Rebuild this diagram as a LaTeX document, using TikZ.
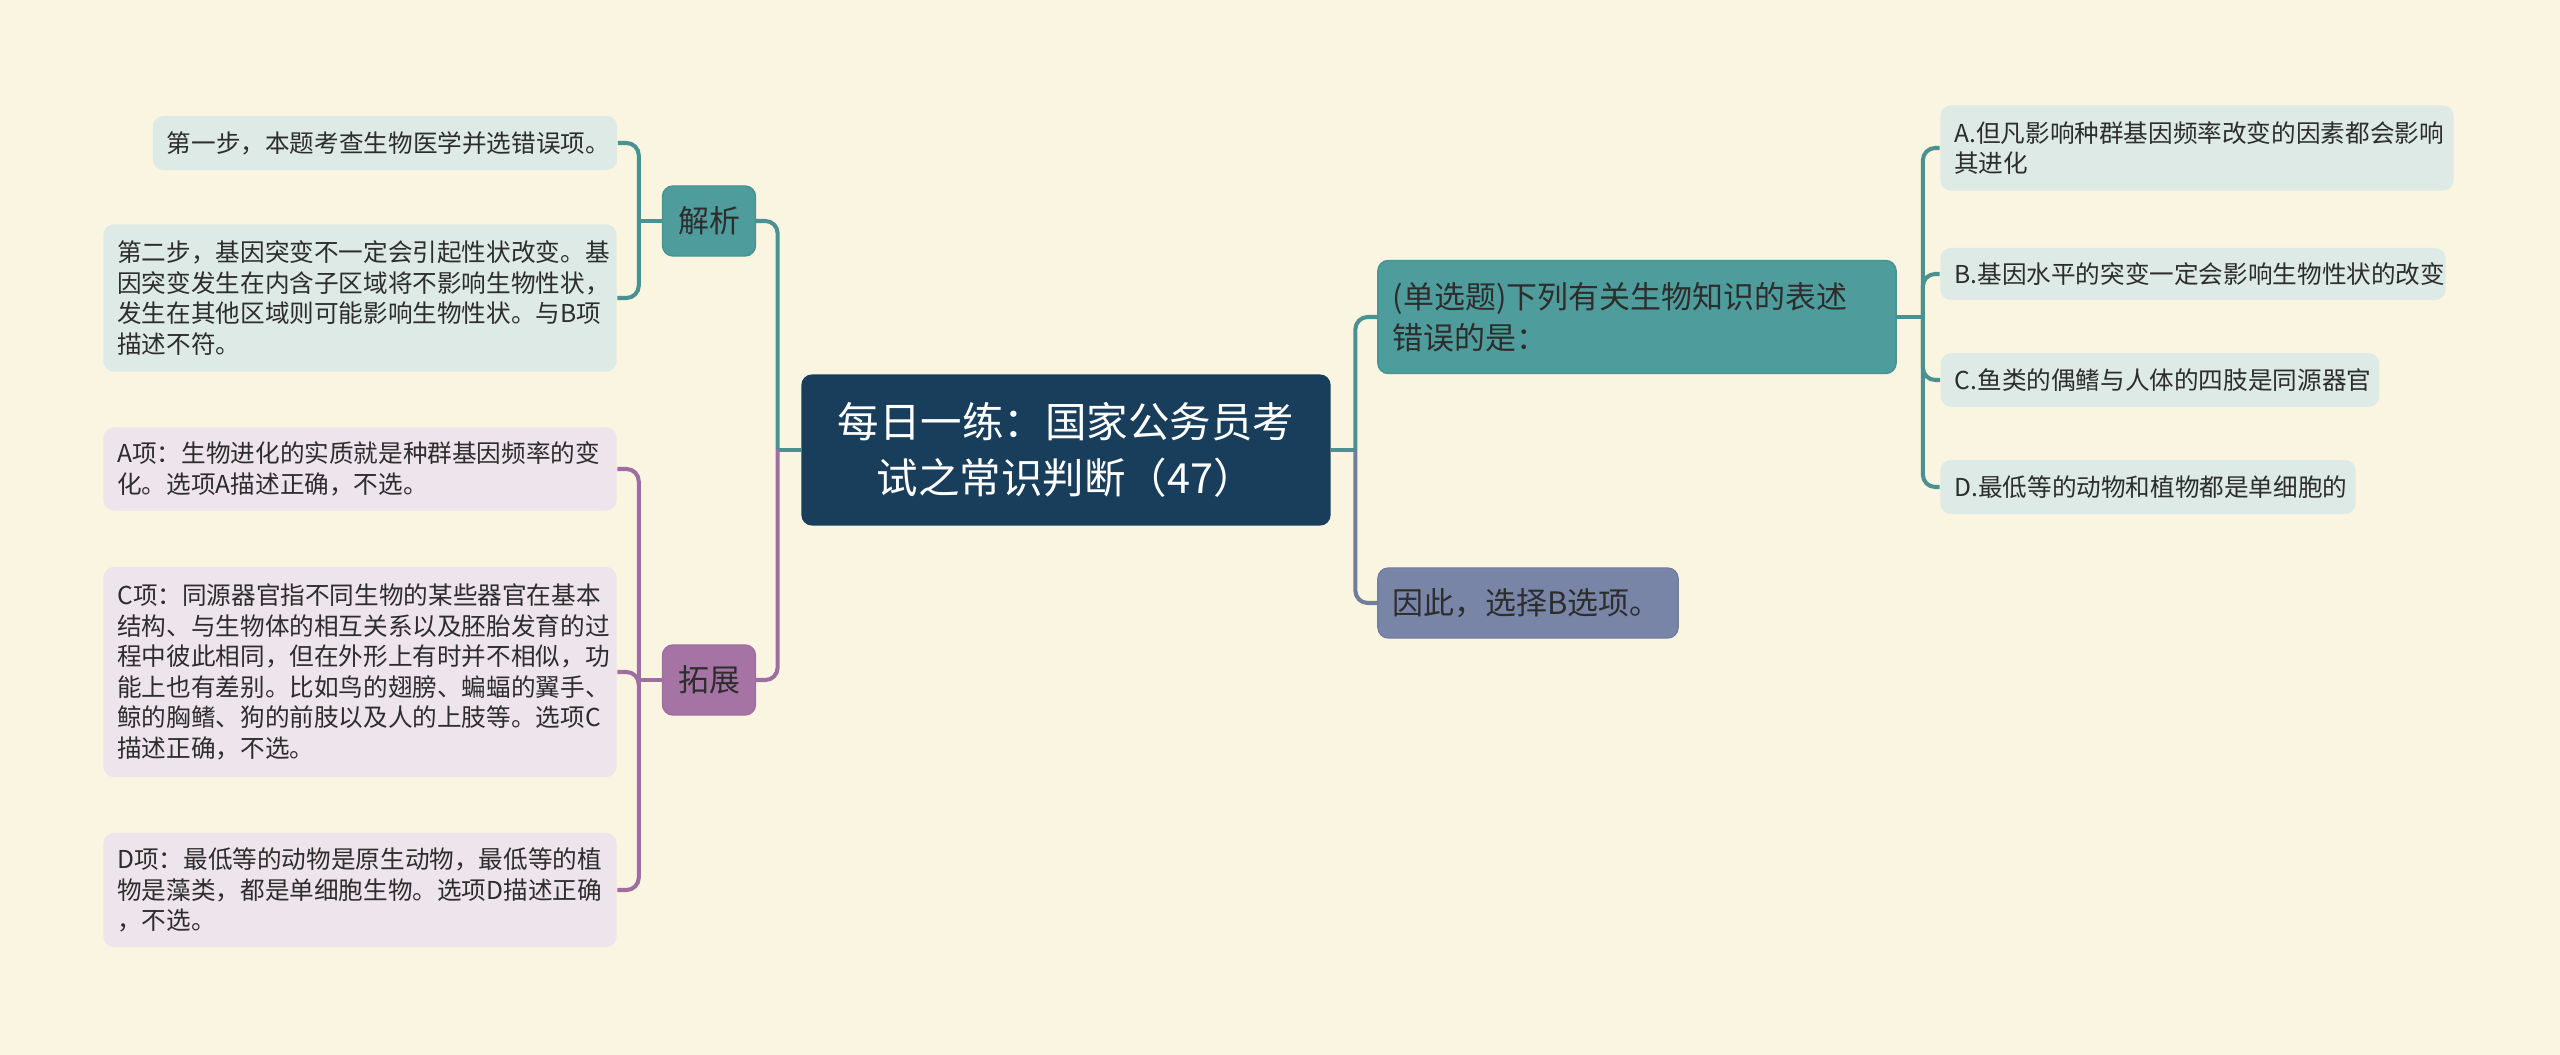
\documentclass[tikz,border=0pt]{standalone}
\usepackage{fontspec}
\setmainfont{Noto Sans CJK SC}
\begin{document}
\begin{tikzpicture}[x=0.01cm,y=-0.01cm,
    rootbox/.style={fill=rootcolor, rounded corners=3pt, inner sep=0pt, align=center, text=white, font=\fontsize{11.8pt}{15.7pt}\selectfont},
    branch/.style={rounded corners=3pt, inner sep=0pt, text=textcolor, font=\fontsize{8.8pt}{11.6pt}\selectfont},
    widebranch/.style={branch, inner xsep=0.15cm, align=left},
    leaf/.style={rounded corners=3pt, inner xsep=0.14cm, inner ysep=0pt, align=left, text=textcolor, font=\fontsize{7pt}{8.7pt}\selectfont},
    tealline/.style={draw=teallinecolor, line width=1.15pt, rounded corners=3.5pt},
    purpleline/.style={draw=purplelinecolor, line width=1.15pt, rounded corners=3.5pt},
    slateline/.style={draw=slatelinecolor, line width=1.15pt, rounded corners=3.5pt}]
    % Define colors
    \definecolor{bgcolor}{RGB}{250,245,224}
    \definecolor{rootcolor}{RGB}{25,62,92}
    \definecolor{textcolor}{RGB}{45,45,45}
    \definecolor{tealcolor}{RGB}{78,156,155}
    \definecolor{purplecolor}{RGB}{165,116,165}
    \definecolor{slatecolor}{RGB}{121,133,167}
    \definecolor{tealleaf}{RGB}{221,234,230}
    \definecolor{purpleleaf}{RGB}{238,228,236}
    \definecolor{teallinecolor}{RGB}{74,146,145}
    \definecolor{purplelinecolor}{RGB}{158,110,160}
    \definecolor{slatelinecolor}{RGB}{112,126,158}

    % Draw background
    \fill[bgcolor] (0,0) rectangle (2560,1055);
    \useasboundingbox (0,0) rectangle (2560,1055);

    % Root
    \node[rootbox, minimum width=5.29cm, minimum height=1.51cm] (root) at (1066,450) {每日一练：国家公务员考\\试之常识判断（47）};

    % Left branches
    \node[branch, fill=tealcolor, draw=teallinecolor, minimum width=0.93cm, minimum height=0.70cm] (jiexi) at (709,221) {解析};
    \node[branch, fill=purplecolor, draw=purplelinecolor, minimum width=0.93cm, minimum height=0.70cm] (tuozhan) at (709,680) {拓展};

    \node[leaf, fill=tealleaf, text width=4.36cm, minimum height=0.54cm] (step1) at (385,143) {第一步，本题考查生物医学并选错误项。};
    \node[leaf, fill=tealleaf, text width=4.85cm, minimum height=1.47cm] (step2) at (360,298) {第二步，基因突变不一定会引起性状改变。基\\因突变发生在内含子区域将不影响生物性状，\\发生在其他区域则可能影响生物性状。与B项\\描述不符。};

    \node[leaf, fill=purpleleaf, text width=4.85cm, minimum height=0.83cm] (itemA) at (360,469) {A项：生物进化的实质就是种群基因频率的变\\化。选项A描述正确，不选。};
    \node[leaf, fill=purpleleaf, text width=4.85cm, minimum height=2.10cm] (itemC) at (360,672) {C项：同源器官指不同生物的某些器官在基本\\结构、与生物体的相互关系以及胚胎发育的过\\程中彼此相同，但在外形上有时并不相似，功\\能上也有差别。比如鸟的翅膀、蝙蝠的翼手、\\鲸的胸鳍、狗的前肢以及人的上肢等。选项C\\描述正确，不选。};
    \node[leaf, fill=purpleleaf, text width=4.85cm, minimum height=1.14cm] (itemD) at (360,890) {D项：最低等的动物是原生动物，最低等的植\\物是藻类，都是单细胞生物。选项D描述正确\\，不选。};

    % Right branches
    \node[widebranch, fill=tealcolor, draw=teallinecolor, text width=4.88cm, minimum height=1.13cm] (question) at (1637,317) {(单选题)下列有关生物知识的表述\\错误的是：};
    \node[widebranch, fill=slatecolor, draw=slatelinecolor, text width=2.70cm, minimum height=0.70cm] (answer) at (1528,603) {因此，选择B选项。};

    \node[leaf, fill=tealleaf, text width=4.85cm, minimum height=0.85cm] (optA) at (2197,148) {A.但凡影响种群基因频率改变的因素都会影响\\其进化};
    \node[leaf, fill=tealleaf, text width=4.77cm, minimum height=0.52cm] (optB) at (2193,274) {B.基因水平的突变一定会影响生物性状的改变};
    \node[leaf, fill=tealleaf, text width=4.10cm, minimum height=0.54cm] (optC) at (2160,380) {C.鱼类的偶鳍与人体的四肢是同源器官};
    \node[leaf, fill=tealleaf, text width=3.87cm, minimum height=0.54cm] (optD) at (2148,487) {D.最低等的动物和植物都是单细胞的};

    % Left connectors
    \draw[tealline] (root.west) -- ++(-23,0) coordinate (rootL);
    \draw[tealline] (rootL) |- (jiexi.east);
    \draw[purpleline] (rootL) |- (tuozhan.east);
    \draw[tealline] (jiexi.west) -- ++(-23,0) coordinate (jiexiL);
    \draw[tealline] (jiexiL) |- (step1.east);
    \draw[tealline] (jiexiL) |- (step2.east);
    \draw[purpleline] (tuozhan.west) -- ++(-23,0) coordinate (tuozhanL);
    \foreach \n in {itemA,itemC,itemD}
        \draw[purpleline] (tuozhanL) |- (\n.east);

    % Right connectors
    \draw[tealline] (root.east) -- ++(24,0) coordinate (rootR);
    \draw[tealline] (rootR) |- (question.west);
    \draw[slateline] (rootR) |- (answer.west);
    \draw[tealline] (question.east) -- ++(26,0) coordinate (questionR);
    \foreach \n in {optA,optB,optC,optD}
        \draw[tealline] (questionR) |- (\n.west);
\end{tikzpicture}
\end{document}
